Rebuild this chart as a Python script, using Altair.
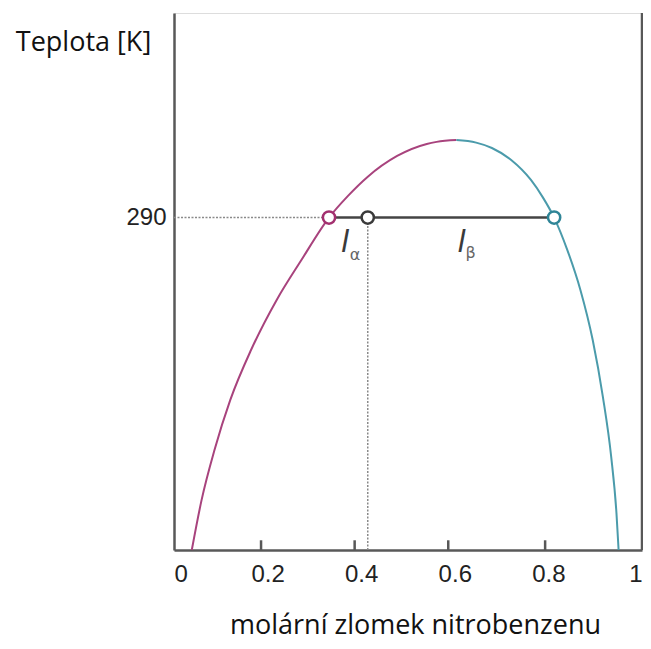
import altair as alt
import pandas as pd

# Left (alpha-rich) branch of the coexistence curve
left_x = [0.038, 0.059, 0.0865, 0.1203, 0.1646, 0.2194, 0.2722, 0.3312, 0.3713, 0.4135, 0.4768, 0.5401, 0.5612, 0.6034]
left_T = [277.0, 278.96, 280.91, 282.87, 284.82, 286.78, 288.34, 290.0, 290.84, 291.59, 292.41, 292.88, 292.96, 293.03]
# Right (beta-rich) branch
right_x = [0.6034, 0.6456, 0.6793, 0.7205, 0.7627, 0.7878, 0.8122, 0.8405, 0.8684, 0.8947, 0.9165, 0.9342, 0.9454, 0.9500]
right_T = [293.03, 292.93, 292.72, 292.25, 291.47, 290.80, 290.0, 288.73, 287.17, 285.21, 282.98, 280.64, 278.45, 277.0]

T_line = 290.0
x_alpha, x_mix, x_beta = 0.3312, 0.414, 0.8122
x_tick_marks = [0.186, 0.386, 0.586, 0.793]
x_tick_labels = [0, 0.2, 0.4, 0.6, 0.8, 1]
T_min, T_max = 277.0, 298.0

MAG = "#a8437d"
TEAL = "#4b9bab"
AX = "#585858"
FONT = "Liberation Sans"
TFONT = "Open Sans"

xs = alt.Scale(domain=[0, 1], nice=False, zero=False)
ys = alt.Scale(domain=[T_min, T_max], nice=False, zero=False)

left_df = pd.DataFrame({"x": left_x, "T": left_T})
right_df = pd.DataFrame({"x": right_x, "T": right_T})

x_axis = alt.Axis(values=x_tick_labels,
                  labelExpr="datum.value == 0 ? '0' : datum.value == 1 ? '1' : format(datum.value, '.1f')",
                  tickSize=0, grid=False, domainColor=AX, domainWidth=2.5,
                  labelFont=FONT, labelFontSize=24, labelColor="#222", labelPadding=12,
                  title="molární zlomek nitrobenzenu", titleFont=TFONT, titleFontSize=27,
                  titleFontWeight="normal", titleColor="#111", titleY=83, titleX=241,
                  titleAlign="center", titleBaseline="alphabetic")
y_axis = alt.Axis(values=[T_line], tickSize=0, grid=False, domainColor=AX, domainWidth=2.5,
                  labelFont=FONT, labelFontSize=24, labelColor="#222", labelPadding=8,
                  title="Teplota [K]", titleFont=TFONT, titleFontSize=27, titleFontWeight="normal",
                  titleColor="#111", titleAngle=0, titleAlign="center", titleBaseline="middle",
                  titleX=-91, titleY=29)

base_x = alt.X("x:Q", scale=xs, axis=x_axis)
base_y = alt.Y("T:Q", scale=ys, axis=y_axis)

left_line = alt.Chart(left_df).mark_line(color=MAG, strokeWidth=2, interpolate="monotone").encode(x=base_x, y=base_y)
right_line = alt.Chart(right_df).mark_line(color=TEAL, strokeWidth=2, interpolate="monotone").encode(x="x:Q", y="T:Q")

# right border
border_df = pd.DataFrame({"x": [1.0], "T": [T_min], "T2": [T_max]})
border = alt.Chart(border_df).mark_rule(color=AX, strokeWidth=2.5).encode(x="x:Q", y="T:Q", y2="T2:Q")

# inward ticks on the x axis
ticks_df = pd.DataFrame({"x": x_tick_marks, "T": [T_min] * 4, "T2": [T_min + 0.38] * 4})
ticks = alt.Chart(ticks_df).mark_rule(color=AX, strokeWidth=2.5).encode(x="x:Q", y="T:Q", y2="T2:Q")

# dotted guides
hdot_df = pd.DataFrame({"x": [0.0], "x2": [x_alpha], "T": [T_line]})
hdot = alt.Chart(hdot_df).mark_rule(color="#8a8a8a", strokeWidth=1.5, strokeDash=[2, 1.5]).encode(
    x="x:Q", x2="x2:Q", y="T:Q")
vdot_df = pd.DataFrame({"x": [x_mix], "T": [T_min], "T2": [T_line]})
vdot = alt.Chart(vdot_df).mark_rule(color="#8a8a8a", strokeWidth=1.5, strokeDash=[2, 1.5]).encode(
    x="x:Q", y="T:Q", y2="T2:Q")

# tie line
tie_df = pd.DataFrame({"x": [x_alpha], "x2": [x_beta], "T": [T_line]})
tie = alt.Chart(tie_df).mark_rule(color="#444444", strokeWidth=2.5).encode(x="x:Q", x2="x2:Q", y="T:Q")

# circles
pts_df = pd.DataFrame({"x": [x_alpha, x_mix, x_beta], "T": [T_line] * 3, "c": ["a", "m", "b"]})
pts = alt.Chart(pts_df).mark_point(shape="circle", size=150, filled=False, fill="white", fillOpacity=1,
                                   strokeWidth=2.5, opacity=1).encode(
    x="x:Q", y="T:Q",
    stroke=alt.Stroke("c:N", scale=alt.Scale(domain=["a", "m", "b"], range=["#a3306f", "#3a3a3a", "#2f8597"]),
                      legend=None))

# labels l_alpha, l_beta
l_df = pd.DataFrame({"x": [0.365, 0.614], "T": [288.65, 288.65], "t": ["l", "l"]})
l_txt = alt.Chart(l_df).mark_text(font=FONT, fontSize=31, fontStyle="italic", color="#3a3a3a",
                                  baseline="alphabetic", align="center").encode(x="x:Q", y="T:Q", text="t:N")
sub_df = pd.DataFrame({"x": [0.387, 0.634], "T": [288.33, 288.40], "t": ["α", "β"]})
sub_txt = alt.Chart(sub_df).mark_text(font="DejaVu Sans", fontSize=16, color="#666",
                                      baseline="alphabetic", align="center").encode(x="x:Q", y="T:Q", text="t:N")

chart = alt.layer(left_line, right_line, border, ticks, hdot, vdot, tie, pts, l_txt, sub_txt).properties(
    width=468, height=537,
    autosize=alt.AutoSizeParams(type="none"),
    padding={"left": 166, "top": 5, "right": 1, "bottom": 91},
).configure_view(stroke=None).configure(background="white")

chart.save("out.html", embed_options={"renderer": "svg", "actions": False})
